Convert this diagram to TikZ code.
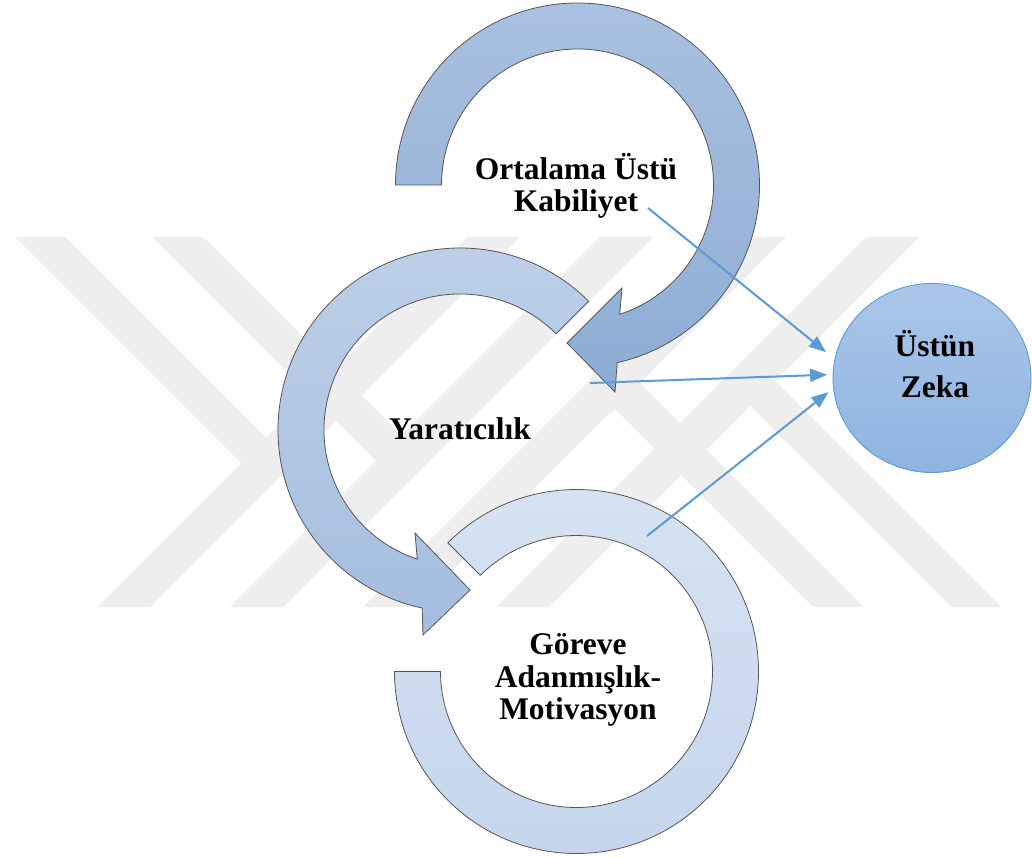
\documentclass[tikz,border=0pt]{standalone}
\usepackage{fontspec}
\setmainfont{Liberation Serif}
\usetikzlibrary{arrows.meta,shapes.geometric,calc}
\definecolor{wmgray}{RGB}{238,238,238}
\definecolor{aonetop}{RGB}{170,193,224}
\definecolor{aonebot}{RGB}{141,172,212}
\definecolor{atwotop}{RGB}{190,208,232}
\definecolor{atwobot}{RGB}{164,189,223}
\definecolor{athreetop}{RGB}{215,227,242}
\definecolor{athreebot}{RGB}{196,213,236}
\definecolor{zektop}{RGB}{171,198,233}
\definecolor{zekbot}{RGB}{141,180,225}
\definecolor{linkblue}{RGB}{91,155,213}
\definecolor{edgegray}{RGB}{85,85,85}
\begin{document}
\begin{tikzpicture}[x=1pt,y=-1pt,
  wm/.style={fill=wmgray},
  ringarrow/.style={draw=edgegray,line width=0.8pt,line join=miter},
  lbl/.style={font=\bfseries\fontsize{31.5}{32.5}\selectfont,align=center,inner sep=0pt},
  zeka/.style={ellipse,draw=linkblue,line width=0.9pt,top color=zektop,bottom color=zekbot,
    minimum width=198pt,minimum height=189pt,inner sep=0pt},
  conn/.style={draw=linkblue,line width=2pt,-{Triangle[length=17pt,width=13pt]}}]
\fill[white] (0,0) rectangle (1032,858);
\useasboundingbox (0,0) rectangle (1032,858);
% watermark
\fill[wm] (97,607) -- (150,607) -- (520,237) -- (467,237) -- cycle;
\fill[wm] (230,607) -- (283,607) -- (653,237) -- (600,237) -- cycle;
\fill[wm] (15,237) -- (65,237) -- (292.5,464.5) -- (267.5,489.5) -- cycle;
\fill[wm] (152,237) -- (203,237) -- (428,462) -- (402.5,487.5) -- cycle;
\begin{scope}[rotate around={180:(508,422)}]
\fill[wm] (97,607) -- (150,607) -- (520,237) -- (467,237) -- cycle;
\fill[wm] (230,607) -- (283,607) -- (653,237) -- (600,237) -- cycle;
\fill[wm] (15,237) -- (65,237) -- (292.5,464.5) -- (267.5,489.5) -- cycle;
\fill[wm] (152,237) -- (203,237) -- (428,462) -- (402.5,487.5) -- cycle;
\end{scope}
% circular arrows
\coordinate (c1) at (577.5,185);
\coordinate (c2) at (460,430);
\coordinate (c3) at (576.5,671.5);
\path[ringarrow,top color=athreetop,bottom color=athreebot]
  ($(c3)+(225:182)$) arc[start angle=225,end angle=540,radius=182]
  -- ($(c3)+(180:136)$) arc[start angle=540,end angle=225,radius=136] -- cycle;
\path[ringarrow,top color=atwotop,bottom color=atwobot]
  ($(c2)+(315:182)$) arc[start angle=315,end angle=102,radius=182]
  -- (423,635) -- (470,590) -- (415,533)
  -- ($(c2)+(108.3:136)$) arc[start angle=108.3,end angle=315,radius=136] -- cycle;
\path[ringarrow,top color=aonetop,bottom color=aonebot]
  ($(c1)+(180:182)$) arc[start angle=180,end angle=437.4,radius=182]
  -- (615,392) -- (567,343) -- (622,288)
  -- ($(c1)+(431.9:136)$) arc[start angle=431.9,end angle=180,radius=136] -- cycle;
% labels
\node[lbl] (t1) at (576,186) {Ortalama Üstü\\Kabiliyet};
\node[lbl] (t2) at (460,429) {Yaratıcılık};
\node[lbl] (t3) at (578,680) {Göreve\\Adanmışlık-\\Motivasyon};
\node[zeka] (z) at (932,378) {};
\node[lbl,font=\bfseries\fontsize{31.5}{41}\selectfont] (zt) at (935,364) {Üstün\\Zeka};
% connectors
\coordinate (s1) at (648,208);
\coordinate (s2) at (590,383);
\coordinate (s3) at (647,536);
\draw[conn,shorten >=11pt] (s1) -- (z.169);
\draw[conn,shorten >=5.5pt] (s2) -- (z.178);
\draw[conn,shorten >=6pt] (s3) -- (z.186.5);
\end{tikzpicture}
\end{document}
